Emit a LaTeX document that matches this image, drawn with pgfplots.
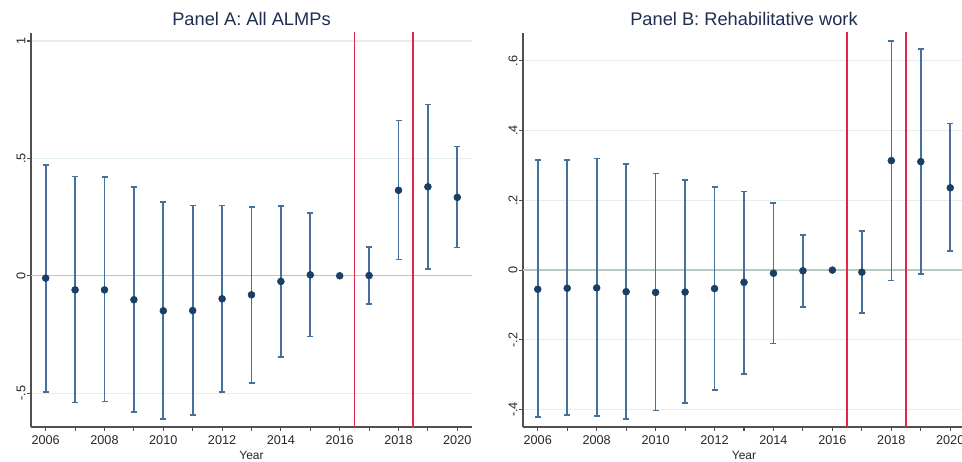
\documentclass[border=0pt]{standalone}
\usepackage{pgfplots}
\pgfplotsset{compat=1.18}
\usepackage{pgfplotstable}
\usepackage{fontspec}
\setmainfont{Liberation Sans}
\definecolor{navy}{HTML}{1A3F66}
\definecolor{barc}{HTML}{46709A}
\definecolor{vred}{HTML}{E2264A}
\definecolor{zerol}{HTML}{B8C8C2}
\definecolor{gridc}{HTML}{E3EEF0}
\definecolor{axc}{HTML}{505050}
\definecolor{titlec}{HTML}{1E2D50}

\pgfplotstableread{
year est lo hi
2006 -0.010 -0.494 0.472
2007 -0.060 -0.540 0.423
2008 -0.060 -0.536 0.420
2009 -0.102 -0.580 0.379
2010 -0.149 -0.611 0.315
2011 -0.148 -0.594 0.300
2012 -0.098 -0.494 0.300
2013 -0.081 -0.457 0.292
2014 -0.024 -0.346 0.296
2015 0.004 -0.258 0.266
2016 0 0 0
2017 0.001 -0.119 0.123
2018 0.364 0.069 0.661
2019 0.379 0.028 0.729
2020 0.334 0.120 0.550
}\dataA

\pgfplotstableread{
year est lo hi
2006 -0.055 -0.422 0.315
2007 -0.052 -0.416 0.315
2008 -0.051 -0.419 0.320
2009 -0.062 -0.428 0.304
2010 -0.064 -0.403 0.277
2011 -0.063 -0.381 0.258
2012 -0.053 -0.343 0.239
2013 -0.035 -0.298 0.225
2014 -0.009 -0.211 0.192
2015 -0.002 -0.105 0.100
2016 0 0 0
2017 -0.006 -0.123 0.113
2018 0.314 -0.030 0.657
2019 0.311 -0.011 0.635
2020 0.236 0.054 0.420
}\dataB

\pgfplotsset{
  panel/.style={
    scale only axis, height=295.5pt,
    xmin=2005.5, xmax=2020.5,
    axis x line*=bottom, axis y line*=left,
    axis line style={-, draw=axc, line width=0.8pt},
    xtick={2006,...,2020},
    xticklabels={2006,,2008,,2010,,2012,,2014,,2016,,2018,,2020},
    tick align=outside, major tick length=3pt,
    tick style={draw=axc, line width=0.8pt},
    ticklabel style={font=\fontsize{9.5}{11}\selectfont, text=black!85},
    yticklabel style={rotate=90, anchor=south, inner sep=1pt},
    ymajorgrids, grid style={draw=gridc, line width=0.8pt},
    xlabel={Year},
    xlabel style={font=\fontsize{9}{10}\selectfont, text=black!85, at={(axis description cs:0.5,0)}, anchor=base, yshift=-24.5pt},
    title style={font=\fontsize{13.7}{15}\selectfont, text=titlec, at={(axis description cs:0.5,1)}, anchor=base, yshift=-0.75pt},
  },
  cibars/.style={only marks, mark=none, forget plot,
    skip coords between index={10}{11},
    error bars/.cd, y dir=both, y explicit,
    error bar style={draw=barc, line width=1.25pt},
    error mark options={rotate=90, draw=barc, line width=1.25pt, mark size=2.25pt}},
  pts/.style={only marks, mark=*, mark size=2.6pt, mark options={draw=navy, fill=navy}, forget plot},
  zline/.style={draw=zerol, line width=0.9pt, forget plot},
  rline/.style={draw=vred, line width=1.35pt, forget plot},
}

\begin{document}
\begin{tikzpicture}
\begin{axis}[panel, width=330.75pt, at={(0pt,0pt)}, anchor=south west,
  ymin=-0.644, ymax=1.034,
  ytick={-0.5,0,0.5,1}, yticklabels={-.5,0,.5,1},
  title={Panel A: All ALMPs}]
\addplot[zline] coordinates {(2005,0) (2021,0)};
\addplot[rline] coordinates {(2016.5,-2) (2016.5,2)};
\addplot[rline] coordinates {(2018.5,-2) (2018.5,2)};
\addplot[cibars] table[x=year, y=est, y error plus expr=\thisrow{hi}-\thisrow{est}, y error minus expr=\thisrow{est}-\thisrow{lo}] {\dataA};
\addplot[pts] table[x=year, y=est] {\dataA};
\end{axis}
\begin{axis}[panel, width=331.5pt, at={(369pt,0pt)}, anchor=south west,
  ymin=-0.45, ymax=0.68,
  ytick={-0.4,-0.2,0,0.2,0.4,0.6}, yticklabels={-.4,-.2,0,.2,.4,.6},
  title={Panel B: Rehabilitative work}]
\addplot[zline] coordinates {(2005,0) (2021,0)};
\addplot[rline] coordinates {(2016.5,-2) (2016.5,2)};
\addplot[rline] coordinates {(2018.5,-2) (2018.5,2)};
\addplot[cibars] table[x=year, y=est, y error plus expr=\thisrow{hi}-\thisrow{est}, y error minus expr=\thisrow{est}-\thisrow{lo}] {\dataB};
\addplot[pts] table[x=year, y=est] {\dataB};
\end{axis}
\pgfresetboundingbox
\path[use as bounding box] (-23.25pt,-25.5pt) rectangle (698.25pt,320.25pt);
\end{tikzpicture}
\end{document}
